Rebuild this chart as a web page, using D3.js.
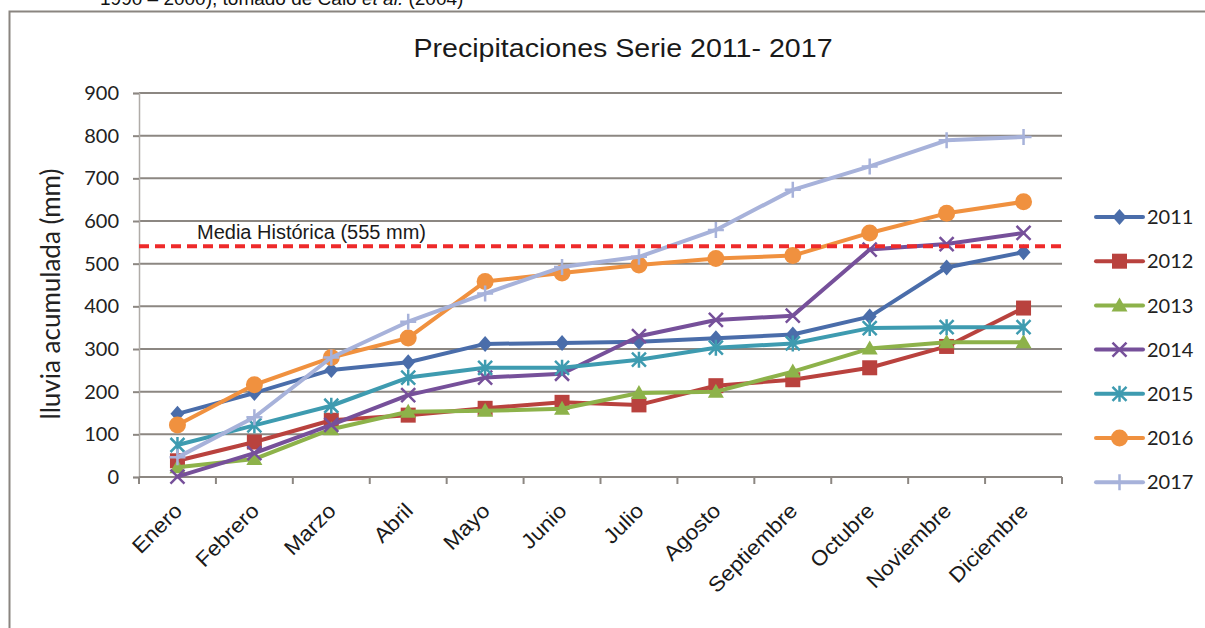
<!DOCTYPE html>
<html>
<head>
<meta charset="utf-8">
<script src="https://cdn.jsdelivr.net/npm/d3@7"></script>
<style>
html,body{margin:0;padding:0;background:#fff;}
svg{display:block;}
</style>
</head>
<body>
<svg id="chart" width="1205" height="628"></svg>
<script>
const months = ["Enero","Febrero","Marzo","Abril","Mayo","Junio","Julio","Agosto","Septiembre","Octubre","Noviembre","Diciembre"];
const yTicks = [0,100,200,300,400,500,600,700,800,900];
const years = ["2011","2012","2013","2014","2015","2016","2017"];
const s2011 = [148,197,251,269,312,314,317,325,334,376,491,527];
const s2012 = [38,82,133,145,161,175,169,214,228,256,306,396];
const s2013 = [23,42,112,153,155,160,197,200,247,301,316,316];
const s2014 = [1,56,122,192,233,242,330,368,378,533,546,572];
const s2015 = [75,121,167,233,256,256,275,303,313,349,351,351];
const s2016 = [122,216,280,326,458,478,497,512,519,572,618,645];
const s2017 = [46,140,280,364,430,492,516,579,673,728,789,797];
const mediaHistorica = 541;
const mediaLabel = "Media Histórica (555 mm)";
const title = "Precipitaciones Serie 2011- 2017";
const yTitle = "lluvia acumulada (mm)";
const caption = "1990 – 2000), tomado de Calo et al. (2004)";

const seriesValues = [s2011,s2012,s2013,s2014,s2015,s2016,s2017];
const colors = ["#4A6DAA","#B9423E","#8DB24A","#76509A","#3E9BB0","#F0913F","#A7B2DA"];
const markers = ["diamond","square","triangle","x","asterisk","circle","plus"];

const svg = d3.select("#chart");

// frame
svg.append("path").attr("d","M9.5,628 V11.5 H1205").attr("fill","none").attr("stroke","#8a8580").attr("stroke-width",2);

// caption (cut at top, as in the source)
const cap = svg.append("text").attr("x",100).attr("y",5).attr("font-family","Liberation Sans, Arial, sans-serif").attr("font-size",19).attr("fill","#111");
cap.append("tspan").text("1990 – 2000), tomado de Calo ");
cap.append("tspan").attr("font-style","italic").text("et al.");
cap.append("tspan").text(" (2004)");

// title
svg.append("text").attr("transform","translate(623,57) scale(1.1,1)").attr("text-anchor","middle")
  .attr("font-family","Liberation Sans, Arial, sans-serif").attr("font-size",26).attr("fill","#1a1a1a").text(title);

const x = d3.scaleBand().domain(months).range([139,1062]);
const y = d3.scaleLinear().domain([0,900]).range([477,93]);
const cx = d => x(d) + x.bandwidth()/2;

// gridlines
svg.append("g").selectAll("line").data(yTicks.filter(v=>v>0)).join("line")
  .attr("x1",139).attr("x2",1062).attr("y1",d=>y(d)).attr("y2",d=>y(d))
  .attr("stroke","#8c8782").attr("stroke-width",2);

// y axis
const yAxis = svg.append("g").attr("transform","translate(139,0)")
  .call(d3.axisLeft(y).tickValues(yTicks).tickSize(6).tickPadding(14));
yAxis.select(".domain").attr("stroke","#b0aca8").attr("stroke-width",1.5);
yAxis.selectAll(".tick line").attr("stroke","#8c8782").attr("stroke-width",2);
yAxis.selectAll(".tick text").attr("font-family","Lato, sans-serif").attr("font-size",20).attr("fill","#222");

// x axis
svg.append("line").attr("x1",139).attr("x2",1062).attr("y1",477).attr("y2",477).attr("stroke","#8c8782").attr("stroke-width",2);
const bounds = months.map(m=>x(m)).concat([x.range()[1]]);
svg.append("g").selectAll("line").data(bounds).join("line")
  .attr("x1",d=>d).attr("x2",d=>d).attr("y1",477).attr("y2",484)
  .attr("stroke","#8c8782").attr("stroke-width",2);
svg.append("g").selectAll("text").data(months).join("text")
  .attr("transform",d=>`translate(${cx(d)+6},${512}) rotate(-45) scale(1.08,1)`)
  .attr("text-anchor","end")
  .attr("font-family","Liberation Sans, Arial, sans-serif").attr("font-size",21).attr("fill","#1a1a1a")
  .text(d=>d);

// y title
svg.append("text").attr("transform","translate(60,294) rotate(-90)").attr("text-anchor","middle")
  .attr("font-family","Lato, sans-serif").attr("font-size",26).attr("fill","#222").text(yTitle);

// marker drawing
function drawMarker(g, type, color, px, py){
  const s = 7;
  if(type==="diamond"){
    g.append("path").attr("d",`M${px},${py-s-1} L${px+s},${py} L${px},${py+s+1} L${px-s},${py} Z`).attr("fill",color);
  } else if(type==="square"){
    g.append("rect").attr("x",px-7.5).attr("y",py-7.5).attr("width",15).attr("height",15).attr("fill",color);
  } else if(type==="triangle"){
    g.append("path").attr("d",`M${px},${py-8} L${px+8},${py+6} L${px-8},${py+6} Z`).attr("fill",color);
  } else if(type==="circle"){
    g.append("circle").attr("cx",px).attr("cy",py).attr("r",8.5).attr("fill",color);
  } else if(type==="x"){
    g.append("path").attr("d",`M${px-7},${py-7} L${px+7},${py+7} M${px-7},${py+7} L${px+7},${py-7}`).attr("stroke",color).attr("stroke-width",2.5).attr("fill","none");
  } else if(type==="asterisk"){
    g.append("path").attr("d",`M${px-7},${py-7} L${px+7},${py+7} M${px-7},${py+7} L${px+7},${py-7} M${px},${py-8} L${px},${py+8}`).attr("stroke",color).attr("stroke-width",2.5).attr("fill","none");
  } else if(type==="plus"){
    g.append("path").attr("d",`M${px},${py-8} L${px},${py+8} M${px-8},${py} L${px+8},${py}`).attr("stroke",color).attr("stroke-width",2.5).attr("fill","none");
  }
}

const line = d3.line().x((d,i)=>cx(months[i])).y(d=>y(d));
const seriesG = svg.append("g");
seriesValues.forEach((vals,k)=>{
  const g = seriesG.append("g");
  g.append("path").datum(vals).attr("d",line).attr("fill","none")
    .attr("stroke",colors[k]).attr("stroke-width",4).attr("stroke-linejoin","round").attr("stroke-linecap","round");
  vals.forEach((v,i)=>drawMarker(g, markers[k], colors[k], cx(months[i]), y(v)));
});

// media historica
svg.append("line").attr("x1",139).attr("x2",1062).attr("y1",y(mediaHistorica)).attr("y2",y(mediaHistorica))
  .attr("stroke","#EE2A2A").attr("stroke-width",4).attr("stroke-dasharray","10,6");
svg.append("text").attr("x",197).attr("y",239).attr("font-family","Liberation Sans, Arial, sans-serif")
  .attr("font-size",20).attr("fill","#1a1a1a").text(mediaLabel);

// legend
const leg = svg.append("g");
years.forEach((yr,k)=>{
  const ly = 217 + k*44.2;
  leg.append("line").attr("x1",1096).attr("x2",1143).attr("y1",ly).attr("y2",ly)
    .attr("stroke",colors[k]).attr("stroke-width",4).attr("stroke-linecap","round");
  drawMarker(leg, markers[k], colors[k], 1119.5, ly);
  leg.append("text").attr("x",1147).attr("y",ly).attr("dy","0.36em")
    .attr("font-family","Lato, sans-serif").attr("font-size",20).attr("fill","#222").text(yr);
});
</script>
</body>
</html>
